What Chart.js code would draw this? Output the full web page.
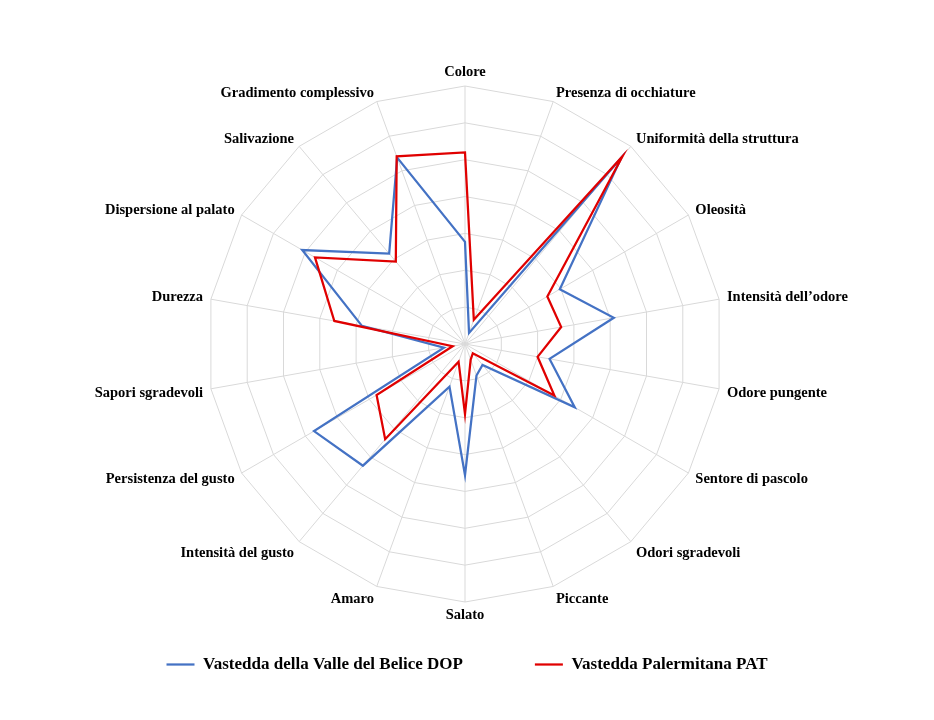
<!DOCTYPE html>
<html>
<head>
<meta charset="utf-8">
<script src="https://cdn.jsdelivr.net/npm/chart.js@4.4.1/dist/chart.umd.min.js"></script>
<style>
  html, body { margin: 0; padding: 0; background: #ffffff; }
  #c { display: block; }
</style>
</head>
<body>
<canvas id="c" width="934" height="720"></canvas>
<script>
const categories = ['Colore', 'Presenza di occhiature', 'Uniformità della struttura', 'Oleosità',
  'Intensità dell’odore', 'Odore pungente', 'Sentore di pascolo', 'Odori sgradevoli', 'Piccante',
  'Salato', 'Amaro', 'Intensità del gusto', 'Persistenza del gusto', 'Sapori sgradevoli', 'Durezza',
  'Dispersione al palato', 'Salivazione', 'Gradimento complessivo'];

const seriesNames = ['Vastedda della Valle del Belice DOP', 'Vastedda Palermitana PAT'];

const valuesDOP = [2.77, 0.32, 6.6, 2.97, 4.1, 2.33, 3.44, 0.74, 0.91, 3.56, 1.23, 4.31, 4.73, 0.58, 2.84, 5.1, 3.2, 5.38];
const valuesPAT = [5.2, 0.7, 6.65, 2.58, 2.65, 2.0, 2.8, 0.33, 0.45, 1.9, 0.51, 3.37, 2.77, 0.34, 3.6, 4.7, 2.92, 5.42];

const scaleMin = 0;
const scaleMax = 7;
const scaleStep = 1;

// layout of the radial scale (centre and radius in pixels)
const CENTER_X = 465;
const CENTER_Y = 344;
const RADIUS = 258;

function labelShift(deg) {
  if (deg === 0) return 3;
  if (deg === 180) return -3;
  if (deg < 90 || deg > 270) return 8;
  if (deg <= 120 || deg >= 240) return -6;
  return -3;
}

new Chart(document.getElementById('c'), {
  type: 'radar',
  data: {
    labels: categories,
    datasets: [
      {
        label: seriesNames[0],
        data: valuesDOP,
        borderColor: '#4472C4',
        backgroundColor: '#4472C4',
        borderWidth: 2.25,
        pointRadius: 0,
        fill: false,
        order: 1
      },
      {
        label: seriesNames[1],
        data: valuesPAT,
        borderColor: '#E00000',
        backgroundColor: '#E00000',
        borderWidth: 2.25,
        pointRadius: 0,
        fill: false,
        order: 0
      }
    ]
  },
  options: {
    responsive: false,
    animation: false,
    devicePixelRatio: 1,
    layout: { padding: { bottom: 37 } },
    plugins: {
      tooltip: { enabled: false },
      legend: {
        position: 'bottom',
        labels: {
          sort: (a, b) => a.datasetIndex - b.datasetIndex,
          usePointStyle: true,
          pointStyle: 'line',
          pointStyleWidth: 28,
          boxWidth: 28,
          padding: 72,
          color: '#000000',
          font: { family: '"Liberation Serif", "Times New Roman", serif', size: 17, weight: 'bold' }
        }
      }
    },
    scales: {
      r: {
        min: scaleMin,
        max: scaleMax,
        beginAtZero: true,
        ticks: { display: false, stepSize: scaleStep },
        grid: { color: '#d9d9d9', lineWidth: 1 },
        angleLines: { color: '#d9d9d9', lineWidth: 1 },
        pointLabels: {
          padding: 8,
          color: '#000000',
          font: { family: '"Liberation Serif", "Times New Roman", serif', size: 14.5, weight: 'bold' }
        },
        beforeFit: (scale) => {
          scale.setCenterPoint = function () {
            this.xCenter = CENTER_X;
            this.yCenter = CENTER_Y;
            this.drawingArea = RADIUS;
          };
        },
        afterFit: (scale) => {
          const n = categories.length;
          (scale._pointLabelItems || []).forEach((item, i) => {
            const dy = labelShift(Math.round(i * 360 / n));
            item.y += dy;
            item.top += dy;
            item.bottom += dy;
          });
        }
      }
    }
  }
});
</script>
</body>
</html>
